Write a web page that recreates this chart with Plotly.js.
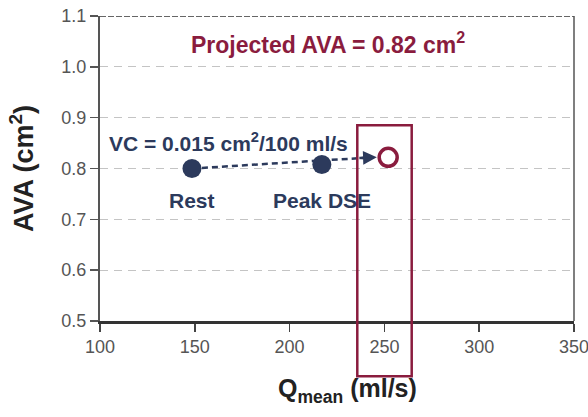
<!DOCTYPE html>
<html>
<head>
<meta charset="utf-8">
<script src="https://cdn.plot.ly/plotly-3.0.1.min.js"></script>
<style>html,body{margin:0;padding:0;background:#fff;}#chart{width:588px;height:417px;}</style>
</head>
<body>
<div id="chart"></div>
<script>
var stageLabels = ["Rest", "Peak DSE"];
var qMean = [148.5, 217];
var ava = [0.80, 0.808];
var projectedQ = [252];
var projectedAVA = [0.822];
var xTicks = [100, 150, 200, 250, 300, 350];
var yTicks = [0.5, 0.6, 0.7, 0.8, 0.9, 1.0, 1.1];
var yTickText = ["0.5", "0.6", "0.7", "0.8", "0.9", "1.0", "1.1"];

var navy = "#2c3a5c";
var wine = "#8a1c3e";
var FONT = "Liberation Sans, Arial, Helvetica, sans-serif";

var traces = [
  {
    x: [qMean[0], 244],
    y: [ava[0], projectedAVA[0]],
    mode: "lines",
    line: {color: navy, width: 2.5, dash: "6px,4px"},
    hoverinfo: "skip",
    showlegend: false
  },
  {
    x: qMean,
    y: ava,
    mode: "markers",
    marker: {color: navy, size: 19},
    showlegend: false
  },
  {
    x: projectedQ,
    y: projectedAVA,
    mode: "markers",
    marker: {color: "#ffffff", size: 18, line: {color: wine, width: 3.5}},
    showlegend: false
  }
];

var annotations = [
  {x: 220.5, y: 1.046, xref: "x", yref: "y", text: "Projected AVA = 0.82 cm<sup>2</sup>", showarrow: false,
   font: {family: FONT, size: 23, color: wine, weight: "bold"}},
  {x: 168, y: 0.852, xref: "x", yref: "y", text: "VC = 0.015 cm<sup>2</sup>/100 ml/s", showarrow: false,
   font: {family: FONT, size: 21, color: navy, weight: "bold"}},
  {x: 246, y: projectedAVA[0], ax: 236, ay: 0.8207, xref: "x", yref: "y", axref: "x", ayref: "y",
   text: "", showarrow: true, arrowhead: 2, arrowsize: 1.1, arrowwidth: 2.5, arrowcolor: navy}
];
for (var i = 0; i < stageLabels.length; i++) {
  annotations.push({x: qMean[i], y: 0.738, xref: "x", yref: "y", text: stageLabels[i], showarrow: false,
    font: {family: FONT, size: 21, color: navy, weight: "bold"}});
}

var layout = {
  width: 588, height: 417,
  margin: {l: 100, r: 14, t: 16, b: 96},
  paper_bgcolor: "#ffffff", plot_bgcolor: "#ffffff",
  font: {family: FONT},
  xaxis: {
    range: [100, 350], tickvals: xTicks, ticks: "outside", ticklen: 8, tickwidth: 1.5, tickcolor: "#444",
    showgrid: false, zeroline: false, showline: true, linecolor: "#333", linewidth: 2.5,
    ticklabeloverflow: "allow",
    tickfont: {family: FONT, size: 18, color: "#555"},
    title: {text: "&nbsp;&nbsp;&nbsp;<b>Q<sub>mean</sub> (ml/s)</b>", font: {family: FONT, size: 25, color: "#222"}, standoff: 24}
  },
  yaxis: {
    range: [0.5, 1.1], tickvals: yTicks, ticktext: yTickText, ticks: "outside", ticklen: 8, tickwidth: 1.5, tickcolor: "#555",
    showgrid: true, gridcolor: "#c4c4c4", gridwidth: 1.3, griddash: "8px,6px", zeroline: false,
    showline: true, linecolor: "#555", linewidth: 2,
    tickfont: {family: FONT, size: 18, color: "#555"},
    title: {text: "<b>AVA (cm<sup>2</sup>)</b>", font: {family: FONT, size: 27, color: "#222"}, standoff: 20}
  },
  shapes: [
    {type: "line", xref: "paper", yref: "y", x0: 0, x1: 1, y0: 1.1, y1: 1.1,
     line: {color: "#666", width: 2, dash: "6px,2px"}},
    {type: "line", xref: "paper", yref: "paper", x0: 1, x1: 1, y0: 0, y1: 1,
     line: {color: "#555", width: 1.5}},
    {type: "rect", xref: "x", yref: "paper", x0: 235.7, x1: 264.4, y0: -0.181, y1: 0.642,
     line: {color: wine, width: 2.5}, fillcolor: "rgba(0,0,0,0)"}
  ],
  annotations: annotations
};

Plotly.newPlot("chart", traces, layout, {displayModeBar: false, staticPlot: true});
</script>
</body>
</html>
